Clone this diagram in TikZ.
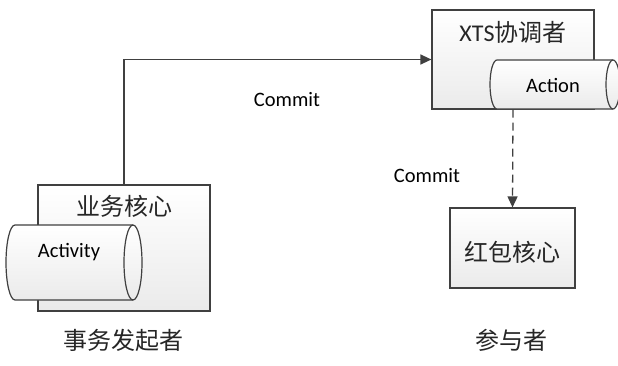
\documentclass[tikz,border=0pt]{standalone}
\usepackage{fontspec}
\setmainfont{Carlito}
\newfontfamily\cjk{Noto Sans CJK SC}
\usetikzlibrary{arrows.meta}
\definecolor{edge}{HTML}{404040}
\begin{document}
\begin{tikzpicture}[x=1pt,y=1pt,
  boxstyle/.style={draw=edge,line width=1.2pt,top color=white,bottom color=gray!16,inner sep=0pt},
  cylstyle/.style={draw=edge,line width=1.2pt,top color=white,bottom color=gray!16},
  lat/.style={font=\fontsize{20.5}{22}\selectfont,text=black},
  han/.style={font=\fontsize{24}{26}\selectfont\cjk,text=black!85},
  conn/.style={draw=edge,line width=1.3pt},
  tip/.style={-{Triangle[length=11pt,width=10pt]}}]
\useasboundingbox (0,0) rectangle (618,365);
\fill[white] (0,0) rectangle (618,365);
% left box
\node[boxstyle,minimum width=172pt,minimum height=126pt] (lb) at (124,117) {};
\node[han] (lbt) at (124,159) {业务核心};
% Activity cylinder
\path[cylstyle] (15,140) -- (133,140) arc[start angle=90,end angle=-90,x radius=9,y radius=37.5]
  -- (15,65) arc[start angle=270,end angle=90,x radius=9,y radius=37.5] -- cycle;
\draw[edge,line width=1.2pt] (133,140) arc[start angle=90,end angle=270,x radius=9,y radius=37.5];
\node[lat] (act) at (69,113) {Activity};
% XTS box
\node[boxstyle,minimum width=162pt,minimum height=99pt] (xts) at (513,305.5) {};
\node[han] (xtst) at (513,333) {{\fontspec{Carlito}XTS}协调者};
% Action cylinder
\path[cylstyle] (497,305) -- (613,305) arc[start angle=90,end angle=-90,x radius=7,y radius=24.5]
  -- (497,256) arc[start angle=270,end angle=90,x radius=7,y radius=24.5] -- cycle;
\draw[edge,line width=1.2pt] (613,305) arc[start angle=90,end angle=270,x radius=7,y radius=24.5];
\node[lat] (actn) at (553,280) {Action};
% red box
\node[boxstyle,minimum width=125pt,minimum height=80pt] (red) at (512.5,117) {};
\node[han] (redt) at (512.5,113) {红包核心};
% connectors
\draw[conn,tip] (lb.north) |- (xts.west);
\draw[conn,dash pattern=on 8pt off 5pt,tip] (xts.south) -- (red.north);
\node[lat] (c1) at (287,265) {Commit};
\node[lat] (c2) at (427,189) {Commit};
\node[han] (l1) at (123,25) {事务发起者};
\node[han] (l2) at (511,25) {参与者};
\end{tikzpicture}
\end{document}
